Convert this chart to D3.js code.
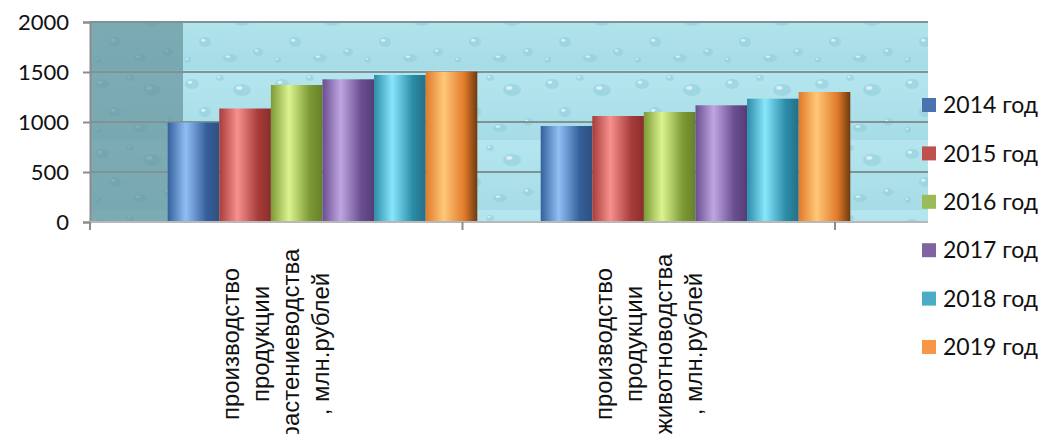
<!DOCTYPE html>
<html>
<head>
<meta charset="utf-8">
<script src="https://cdn.jsdelivr.net/npm/d3@7"></script>
<style>
  body { margin: 0; background: #fff; }
  svg { display: block; }
</style>
</head>
<body>
<svg id="chart" width="1043" height="434"></svg>
<script>
// chart data
var categories = [
	["производство", "продукции", "растениеводства", ", млн.рублей"],
	["производство", "продукции", "животноводства", ", млн.рублей"]
];
var years = ["2014 год", "2015 год", "2016 год", "2017 год", "2018 год", "2019 год"];
var plantValues = [995, 1135, 1370, 1427, 1470, 1503];
var animalValues = [960, 1060, 1100, 1167, 1233, 1300];
var yTicks = [0, 500, 1000, 1500, 2000];

var seriesValues = [plantValues, animalValues];

// colours: [legend, dark edge, highlight, right edge]
var colors = [
	["#4a72b0", "#35609c", "#90bff4", "#2f4f80"],
	["#c0504d", "#a83c3a", "#f7918e", "#8a2e2c"],
	["#9bbb59", "#7c9a36", "#dcf490", "#66802a"],
	["#8064a2", "#6a4e90", "#bfa6e2", "#553c76"],
	["#4bacc6", "#2b8ca8", "#88e6fc", "#246f86"],
	["#f79646", "#e07a2a", "#ffc878", "#6e3a10"]
];

var svg = d3.select("#chart");
var plotLeft = 90, plotRight = 928, plotTop = 22, plotBottom = 222;

var y = d3.scaleLinear().domain([0, 2000]).range([plotBottom, plotTop]);
// category axis (ticks and labels)
var xAxisScale = d3.scaleBand().domain([0, 1]).range([plotLeft, 835]);
// bar groups sit a little to the right of the category bands
var x0 = d3.scaleBand().domain([0, 1]).range([136, 882]).paddingInner(0.17).paddingOuter(0.085);
var x1 = d3.scaleBand().domain(d3.range(years.length)).range([0, x0.bandwidth()]);

var defs = svg.append("defs");

/*
Background texture with water drops
*/
var bgGrad = defs.append("linearGradient").attr("id", "bgGrad").attr("x1", 0).attr("y1", 0).attr("x2", 0).attr("y2", 1);
bgGrad.append("stop").attr("offset", "0%").attr("stop-color", "#b5e6ef");
bgGrad.append("stop").attr("offset", "100%").attr("stop-color", "#a6dce6");

var pat = defs.append("pattern").attr("id", "drops").attr("patternUnits", "userSpaceOnUse")
	.attr("width", 90).attr("height", 70);
pat.append("rect").attr("width", 90).attr("height", 70).attr("fill", "url(#bgGrad)");
var drops = [[12, 14, 7, 5], [40, 8, 4, 3], [62, 20, 9, 6], [25, 42, 6, 5], [78, 52, 5, 4], [50, 58, 7, 4], [8, 60, 3, 3]];
drops.forEach(function(d) {
	pat.append("ellipse").attr("cx", d[0]).attr("cy", d[1]).attr("rx", d[2]).attr("ry", d[3])
		.attr("fill", "#8fcbd8").attr("opacity", 0.55);
	pat.append("ellipse").attr("cx", d[0] - d[2] * 0.3).attr("cy", d[1] - d[3] * 0.35).attr("rx", d[2] * 0.35).attr("ry", d[3] * 0.3)
		.attr("fill", "#e6f8fb").attr("opacity", 0.8);
});

svg.append("rect").attr("x", plotLeft).attr("y", plotTop).attr("width", plotRight - plotLeft).attr("height", plotBottom - plotTop)
	.attr("fill", "url(#drops)");
// darker strip at the left of the plot
svg.append("rect").attr("x", plotLeft).attr("y", plotTop).attr("width", 93).attr("height", plotBottom - plotTop)
	.attr("fill", "#5f8c94").attr("opacity", 0.65);

/*
Grid lines
*/
svg.append("g").selectAll("line").data(yTicks.filter(function(t) { return t > 0; })).join("line")
	.attr("x1", plotLeft).attr("x2", plotRight)
	.attr("y1", function(d) { return y(d); }).attr("y2", function(d) { return y(d); })
	.attr("stroke", "#7f9296").attr("stroke-width", 2);

/*
Bar gradients
*/
colors.forEach(function(c, i) {
	var g = defs.append("linearGradient").attr("id", "barGrad" + i).attr("x1", 0).attr("x2", 1).attr("y1", 0).attr("y2", 0);
	g.append("stop").attr("offset", "0%").attr("stop-color", c[1]);
	g.append("stop").attr("offset", "35%").attr("stop-color", c[2]);
	g.append("stop").attr("offset", "75%").attr("stop-color", c[1]);
	g.append("stop").attr("offset", "100%").attr("stop-color", c[3]);
});

/*
Bars
*/
var groups = svg.append("g").selectAll("g").data(seriesValues).join("g")
	.attr("transform", function(d, i) { return "translate(" + x0(i) + ",0)"; });
groups.selectAll("rect").data(function(d) { return d; }).join("rect")
	.attr("x", function(d, i) { return x1(i); })
	.attr("y", function(d) { return y(d); })
	.attr("width", x1.bandwidth())
	.attr("height", function(d) { return y(0) - y(d); })
	.attr("fill", function(d, i) { return "url(#barGrad" + i + ")"; });

/*
Axes
*/
var yAxis = svg.append("g").attr("transform", "translate(" + plotLeft + ",0)")
	.call(d3.axisLeft(y).tickValues(yTicks).tickFormat(d3.format("d")).tickSize(7).tickPadding(14));
yAxis.select(".domain").attr("stroke", "#8c8c8c").attr("stroke-width", 2);
yAxis.selectAll(".tick line").attr("stroke", "#8c8c8c").attr("stroke-width", 2);
yAxis.selectAll(".tick text").attr("font-family", "Lato, 'Open Sans', sans-serif")
	.attr("font-size", 22).attr("fill", "#111");

svg.append("line").attr("x1", plotLeft).attr("x2", plotRight).attr("y1", plotBottom).attr("y2", plotBottom)
	.attr("stroke", "#b8b8b8").attr("stroke-width", 2);
svg.append("g").selectAll("line").data([0, 1, 2]).join("line")
	.attr("x1", function(d) { return d < 2 ? xAxisScale(d) : xAxisScale(1) + xAxisScale.bandwidth(); })
	.attr("x2", function(d) { return d < 2 ? xAxisScale(d) : xAxisScale(1) + xAxisScale.bandwidth(); })
	.attr("y1", plotBottom).attr("y2", plotBottom + 8)
	.attr("stroke", "#8c8c8c").attr("stroke-width", 2);

/*
Category labels (rotated)
*/
var catLabels = svg.append("g").selectAll("text").data(categories).join("text")
	.attr("transform", function(d, i) {
		return "translate(" + (xAxisScale(i) + xAxisScale.bandwidth() / 2 + 8) + ",344) rotate(-90)";
	})
	.attr("text-anchor", "middle")
	.attr("font-family", "'Liberation Sans', Arial, sans-serif")
	.attr("font-size", 24).attr("fill", "#111");
catLabels.selectAll("tspan").data(function(d) { return d; }).join("tspan")
	.attr("x", 0)
	.attr("y", function(d, i) { return (i - 1.5) * 30; })
	.text(function(d) { return d; });

/*
Legend
*/
var legend = svg.append("g").selectAll("g").data(years).join("g")
	.attr("transform", function(d, i) { return "translate(922," + (105 + i * 48.4) + ")"; });
legend.append("rect").attr("x", 0).attr("y", -7).attr("width", 14).attr("height", 14)
	.attr("fill", function(d, i) { return colors[i][0]; });
legend.append("text").attr("x", 21).attr("y", 0).attr("dy", "0.36em")
	.attr("font-family", "Lato, 'Open Sans', sans-serif")
	.attr("font-size", 23).attr("fill", "#111")
	.text(function(d) { return d; });
</script>
</body>
</html>
